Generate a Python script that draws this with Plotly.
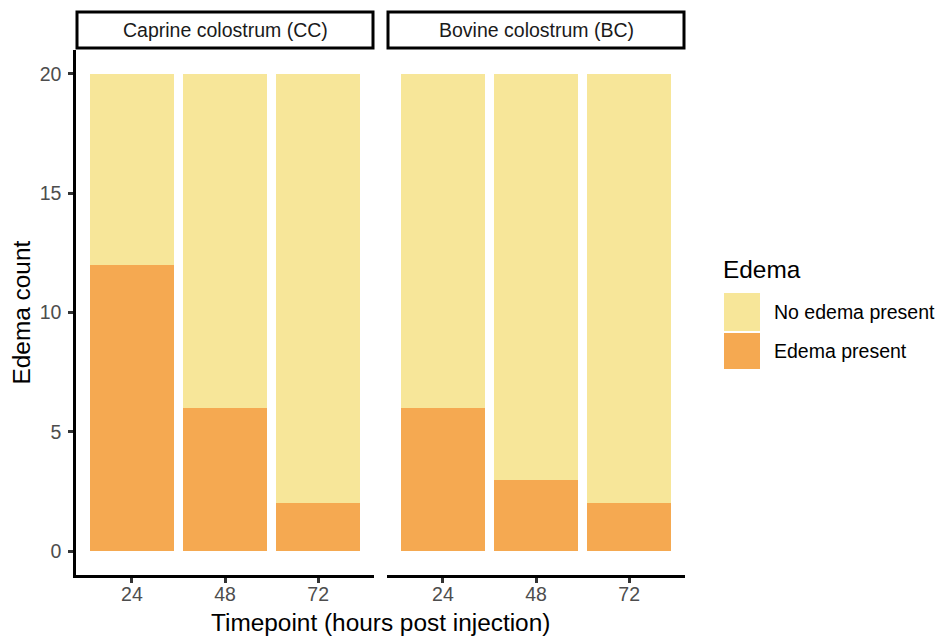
import plotly.graph_objects as go

timepoints = ["24", "48", "72"]
panels = ["Caprine colostrum (CC)", "Bovine colostrum (BC)"]
edema_present = {"Caprine colostrum (CC)": [12, 6, 2],
                 "Bovine colostrum (BC)": [6, 3, 2]}
no_edema = {"Caprine colostrum (CC)": [8, 14, 18],
            "Bovine colostrum (BC)": [14, 17, 18]}
y_ticks = [0, 5, 10, 15, 20]

COL_NO = "#F7E699"
COL_YES = "#F5A951"
FONT = "Liberation Sans"
W, H = 941, 636
BASE = 24.4
SMALL = 19.5

def px(x):
    return x / W

def py(y):
    return 1 - y / H

panel_x = [(76, 374), (387, 685)]
plot_top, plot_bot = 50, 575

fig = go.Figure()
for i, p in enumerate(panels):
    xa = "x" if i == 0 else "x2"
    fig.add_trace(go.Bar(x=timepoints, y=edema_present[p], name="Edema present",
                         marker=dict(color=COL_YES, line=dict(width=0)), width=0.9,
                         xaxis=xa, yaxis="y", showlegend=False))
    fig.add_trace(go.Bar(x=timepoints, y=no_edema[p], name="No edema present",
                         marker=dict(color=COL_NO, line=dict(width=0)), width=0.9,
                         xaxis=xa, yaxis="y", showlegend=False))

axis_common = dict(type="category", range=[-0.6, 2.6], showline=True, linecolor="black",
                   linewidth=2.5, ticks="outside", ticklen=5, tickwidth=2.5, tickcolor="#333333",
                   ticklabelstandoff=-5,
                   tickfont=dict(family=FONT, size=SMALL, color="#4D4D4D"), showgrid=False,
                   zeroline=False, fixedrange=True)

fig.update_layout(
    barmode="stack",
    width=W, height=H,
    margin=dict(l=0, r=0, t=0, b=0),
    plot_bgcolor="white", paper_bgcolor="white",
    font=dict(family=FONT),
    showlegend=False,
    xaxis=dict(domain=[px(panel_x[0][0]), px(panel_x[0][1])], anchor="y", **axis_common),
    xaxis2=dict(domain=[px(panel_x[1][0]), px(panel_x[1][1])], anchor="y", **axis_common),
    yaxis=dict(domain=[py(plot_bot), py(plot_top)], range=[-1, 21], tickvals=y_ticks,
               showline=True, linecolor="black", linewidth=2.5, ticks="outside", ticklen=5,
               tickwidth=2.5, tickcolor="#333333", ticklabelstandoff=3,
               tickfont=dict(family=FONT, size=SMALL, color="#4D4D4D"),
               showgrid=False, zeroline=False, anchor="x", fixedrange=True),
)

shapes = []
annotations = []
for (x0, x1), p in zip(panel_x, panels):
    shapes.append(dict(type="rect", xref="paper", yref="paper", x0=px(x0 + 1), x1=px(x1 - 1),
                       y0=py(48), y1=py(12), line=dict(color="black", width=3),
                       fillcolor="white"))
    annotations.append(dict(text=p, xref="paper", yref="paper", x=px((x0 + x1) / 2), y=py(30),
                            showarrow=False, xanchor="center", yanchor="middle",
                            font=dict(family=FONT, size=SMALL, color="#1A1A1A")))

annotations.append(dict(text="Timepoint (hours post injection)", xref="paper", yref="paper",
                        x=px((76 + 685) / 2), y=py(622), showarrow=False,
                        xanchor="center", yanchor="middle",
                        font=dict(family=FONT, size=BASE, color="black")))
annotations.append(dict(text="Edema count", xref="paper", yref="paper", textangle=-90,
                        x=px(21), y=py((plot_top + plot_bot) / 2), showarrow=False,
                        xanchor="center", yanchor="middle",
                        font=dict(family=FONT, size=BASE, color="black")))

annotations.append(dict(text="Edema", xref="paper", yref="paper", x=px(721), y=py(269),
                        showarrow=False, xanchor="left", yanchor="middle",
                        font=dict(family=FONT, size=BASE, color="black")))
legend_items = [("No edema present", COL_NO, 293, 331), ("Edema present", COL_YES, 333, 369)]
for label, col, y0, y1 in legend_items:
    shapes.append(dict(type="rect", xref="paper", yref="paper", x0=px(724), x1=px(760),
                       y0=py(y1), y1=py(y0), line=dict(width=0), fillcolor=col))
    annotations.append(dict(text=label, xref="paper", yref="paper", x=px(772),
                            y=py((y0 + y1) / 2), showarrow=False, xanchor="left",
                            yanchor="middle", font=dict(family=FONT, size=SMALL, color="black")))

fig.update_layout(shapes=shapes, annotations=annotations)
fig.write_html("out.html")
